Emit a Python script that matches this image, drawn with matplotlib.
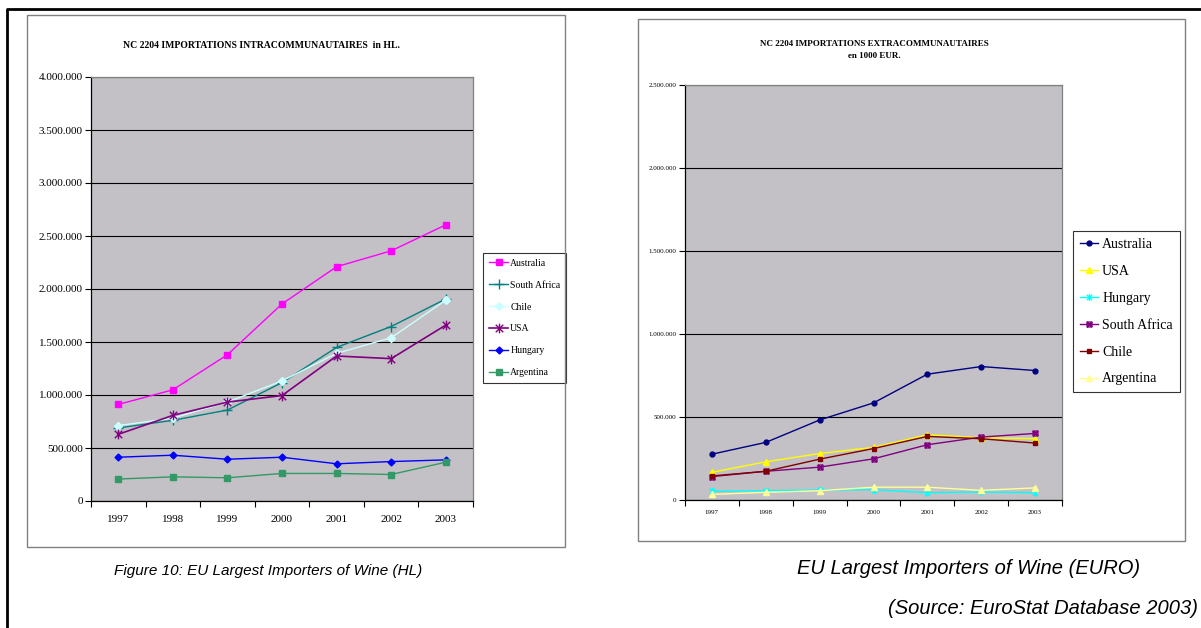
import numpy as np
import matplotlib
matplotlib.use("Agg")
import matplotlib.pyplot as plt
from matplotlib.patches import Rectangle
from matplotlib.lines import Line2D
from matplotlib.path import Path
from matplotlib.ticker import FuncFormatter

years = ["1997", "1998", "1999", "2000", "2001", "2002", "2003"]

# intra-community imports, hectolitres
hl_australia = [911000, 1049000, 1380000, 1859000, 2210000, 2360000, 2605000]
hl_south_africa = [689000, 761000, 858000, 1117000, 1449000, 1646000, 1906000]
hl_chile = [711000, 782000, 933000, 1133000, 1393000, 1540000, 1894000]
hl_usa = [629000, 808000, 933000, 995000, 1368000, 1343000, 1659000]
hl_hungary = [413000, 432000, 394000, 413000, 351000, 372000, 388000]
hl_argentina = [207000, 228000, 219000, 260000, 260000, 250000, 366000]

# extra-community imports, 1000 EUR
eur_australia = [276000, 347000, 482000, 585000, 758000, 804000, 780000]
eur_usa = [167000, 230000, 280000, 317000, 393000, 375000, 369000]
eur_hungary = [52000, 56000, 60000, 62000, 44000, 48000, 44000]
eur_south_africa = [141000, 173000, 198000, 248000, 333000, 379000, 401000]
eur_chile = [145000, 173000, 246000, 310000, 383000, 369000, 343000]
eur_argentina = [34000, 46000, 56000, 77000, 77000, 58000, 73000]

W, H = 1201, 628
SERIF = "Liberation Serif"
CAPTION_FONT = ["Liberation Sans Narrow", "Liberation Sans", "DejaVu Sans"]

fig = plt.figure(figsize=(W / 100, H / 100), dpi=100)
fig.patch.set_facecolor("white")


def px_axes(x0, y0, x1, y1):
    return fig.add_axes([x0 / W, 1 - y1 / H, (x1 - x0) / W, (y1 - y0) / H])


def px_box(x0, y0, x1, y1, color="#808080", lw=1.0):
    fig.add_artist(Rectangle((x0 / W, 1 - y1 / H), (x1 - x0) / W, (y1 - y0) / H,
                             transform=fig.transFigure, fill=False,
                             edgecolor=color, linewidth=lw))


def dots(v, pos):
    return "{:,.0f}".format(v).replace(",", ".")


# excel style asterisk and boxed cross markers
asterisk = Path([(-1, -1), (1, 1), (-1, 1), (1, -1), (0, -1.3), (0, 1.3)],
                [Path.MOVETO, Path.LINETO] * 3)
boxed_x = Path([(-1, -1), (1, -1), (1, 1), (-1, 1), (-1, -1), (1, 1), (-1, 1), (1, -1)],
               [Path.MOVETO, Path.LINETO, Path.LINETO, Path.LINETO, Path.LINETO,
                Path.LINETO, Path.MOVETO, Path.LINETO])


def style_axes(ax, ymax, step, tick_size, xpad):
    x = np.arange(len(years))
    ax.set_facecolor("#c3c1c5")
    ax.set_xlim(-0.5, len(years) - 0.5)
    ax.set_ylim(0, ymax)
    ax.set_yticks(np.arange(0, ymax + 1, step))
    ax.yaxis.set_major_formatter(FuncFormatter(dots))
    ax.set_xticks(np.arange(-0.5, len(years), 1))
    ax.set_xticklabels([])
    ax.set_xticks(x, minor=True)
    ax.set_xticklabels(years, minor=True)
    ax.tick_params(axis="x", which="major", length=4, width=0.8, direction="out")
    ax.tick_params(axis="x", which="minor", length=0, pad=xpad, labelsize=tick_size)
    ax.tick_params(axis="y", length=4, width=0.8, labelsize=tick_size, pad=2)
    for lab in ax.get_xticklabels(minor=True) + ax.get_yticklabels():
        lab.set_family(SERIF)
    ax.grid(axis="y", color="black", linewidth=0.8)
    ax.set_axisbelow(True)
    for side in ("left", "bottom"):
        ax.spines[side].set_color("black")
        ax.spines[side].set_linewidth(0.9)
    for side in ("top", "right"):
        ax.spines[side].set_color("#808080")
        ax.spines[side].set_linewidth(0.9)


# outer frame of the page (left and top edges)
fig.add_artist(Line2D([7 / W, 7 / W, 1.0], [0.0, 1 - 9 / H, 1 - 9 / H],
                      transform=fig.transFigure, color="black", linewidth=2.0))

# ---- left chart: volumes in HL ----
px_box(27, 15, 565, 547)
ax1 = px_axes(91, 77, 473, 501)
style_axes(ax1, 4000000, 500000, 8, 10)
x = np.arange(len(years))
ax1.plot(x, hl_australia, color="#ff00ff", lw=1.0, marker="s", ms=4.5, label="Australia")
ax1.plot(x, hl_south_africa, color="#008080", lw=1.0, marker="+", ms=7, mew=1.0,
         label="South Africa")
ax1.plot(x, hl_chile, color="#ccffff", lw=1.0, marker="D", ms=4, label="Chile")
ax1.plot(x, hl_usa, color="#800080", lw=1.2, marker=asterisk, ms=7, mew=1.0,
         mfc="none", label="USA")
ax1.plot(x, hl_hungary, color="#0000ff", lw=1.0, marker="D", ms=3.5, label="Hungary")
ax1.plot(x, hl_argentina, color="#339966", lw=1.0, marker="s", ms=5, label="Argentina")
fig.text(261 / W, 1 - 45 / H, "NC 2204 IMPORTATIONS INTRACOMMUNAUTAIRES  in HL.",
         family=SERIF, weight="bold", fontsize=7, ha="center", va="center")
leg1 = ax1.legend(loc="upper left", bbox_to_anchor=(483 / W, 1 - 253 / H),
                  bbox_transform=fig.transFigure, frameon=True, fancybox=False,
                  prop={"family": SERIF, "size": 7}, labelspacing=1.32,
                  handlelength=2.0, handletextpad=0.2, borderpad=0.6, borderaxespad=0)
leg1.get_frame().set_edgecolor("black")
leg1.get_frame().set_linewidth(0.8)

# ---- right chart: values in 1000 EUR ----
px_box(638, 19, 1185, 541)
ax2 = px_axes(685, 85, 1062, 500)
style_axes(ax2, 2500000, 500000, 5, 7)
ax2.plot(x, eur_australia, color="#000080", lw=1.0, marker="o", ms=3.5, label="Australia")
ax2.plot(x, eur_usa, color="#ffff00", lw=1.0, marker="^", ms=4, label="USA")
ax2.plot(x, eur_hungary, color="#00ffff", lw=1.0, marker=asterisk, ms=5, mew=1.0,
         mfc="none", label="Hungary")
ax2.plot(x, eur_south_africa, color="#800080", lw=1.0, marker=boxed_x, ms=3.5, mew=1.0,
         mfc="none", label="South Africa")
ax2.plot(x, eur_chile, color="#800000", lw=1.0, marker="s", ms=3.5, label="Chile")
ax2.plot(x, eur_argentina, color="#ffff99", lw=1.0, marker="^", ms=4, label="Argentina")
fig.text(874 / W, 1 - 50 / H, "NC 2204 IMPORTATIONS EXTRACOMMUNAUTAIRES\nen 1000 EUR.",
         family=SERIF, weight="bold", fontsize=6.5, ha="center", va="center",
         linespacing=1.6)
leg2 = ax2.legend(loc="upper left", bbox_to_anchor=(1073 / W, 1 - 231 / H),
                  bbox_transform=fig.transFigure, frameon=True, fancybox=False,
                  prop={"family": SERIF, "size": 10}, labelspacing=1.0,
                  handlelength=1.3, handletextpad=0.3, borderpad=0.5, borderaxespad=0)
leg2.get_frame().set_edgecolor("black")
leg2.get_frame().set_linewidth(0.8)

# captions below the charts
fig.text(268 / W, 1 - 571 / H, "Figure 10: EU Largest Importers of Wine (HL)",
         family=CAPTION_FONT, style="italic", fontsize=11, ha="center", va="center")
fig.text(969 / W, 1 - 568 / H, "EU Largest Importers of Wine (EURO)",
         family=CAPTION_FONT, style="italic", fontsize=14.5, ha="center", va="center")
fig.text(1198 / W, 1 - 608 / H, "(Source: EuroStat Database 2003)",
         family=CAPTION_FONT, style="italic", fontsize=14.5, ha="right", va="center")

fig.savefig("out.png", dpi=100)
